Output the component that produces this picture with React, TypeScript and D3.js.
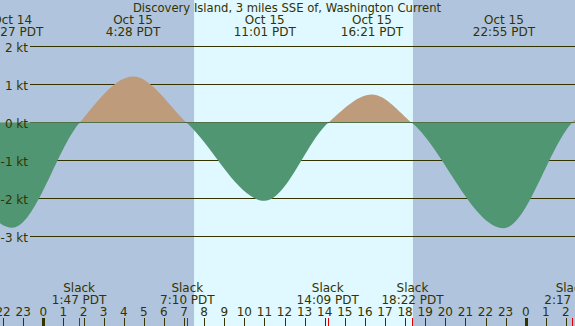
import React from "react";
import * as d3 from "d3";

// hours are counted from Oct 15 00:00 PDT
const eventHours = [-5, -1.55, 1.783, 4.467, 7.167, 11.017, 14.15, 16.35, 18.367, 22.917, 26.283, 29.5];
const eventSpeeds = [0, -2.75, 0, 1.23, 0, -2.04, 0, 0.76, 0, -2.76, 0, 1.1];

const maxHours = [-1.55, 4.467, 11.017, 16.35, 22.917];
const maxDays = ["Oct 14", "Oct 15", "Oct 15", "Oct 15", "Oct 15"];
const maxTimes = ["22:27 PDT", "4:28 PDT", "11:01 PDT", "16:21 PDT", "22:55 PDT"];

const slackHours = [1.783, 7.167, 14.15, 18.367, 26.283];
const slackTimes = ["1:47 PDT", "7:10 PDT", "14:09 PDT", "18:22 PDT", "2:17 PDT"];

const ktTicks = [2, 1, 0, -1, -2, -3];
const hourTicks = d3.range(-2, 27);

const sunrise = 7.5;
const sunset = 18.39;

const title = "Discovery Island, 3 miles SSE of, Washington Current";

const W = 575;
const H = 326;
const ink = "#333300";
const font = "DejaVu Sans";

const App = () => {
  const x = d3.scaleLinear().domain([0, 24]).range([43.3, 525.7]);
  const y = d3.scaleLinear().domain([-3, 2]).range([237.3, 47.3]);
  const y0 = Math.round(y(0)) - 0.5;

  const pts = eventHours.map((h, i) => [h, eventSpeeds[i]] as [number, number]);
  const area = d3
    .area<[number, number]>()
    .x(d => x(d[0]))
    .y0(y0)
    .y1(d => y(d[1]))
    .curve(d3.curveMonotoneX);
  const path = area(pts) || "";

  return (
    <div style={{ position: "fixed", left: 0, top: 0 }}>
      <svg width={W} height={H} style={{ display: "block" }} fontFamily={font} fontSize={12}>
        <defs>
          <clipPath id="above">
            <rect x={0} y={0} width={W} height={y0} />
          </clipPath>
          <clipPath id="below">
            <rect x={0} y={y0 - 0.5} width={W} height={H} />
          </clipPath>
        </defs>
        <rect x={0} y={0} width={W} height={H} fill="#b0c4de" />
        <rect x={x(sunrise)} y={0} width={x(sunset) - x(sunrise)} height={H} fill="#e0f8ff" />

        {ktTicks.map(k => (
          <line key={k} x1={30} x2={W} y1={Math.round(y(k)) - 0.5} y2={Math.round(y(k)) - 0.5} stroke={ink} strokeWidth={1} />
        ))}

        <path d={path} fill="#bd9b7b" clipPath="url(#above)" />
        <path d={path} fill="#509672" clipPath="url(#below)" />

        {ktTicks.map(k => (
          <text key={k} x={28} y={y(k)} dy="0.36em" textAnchor="end" fill={ink}>
            {k} kt
          </text>
        ))}

        <text x={287} y={12} textAnchor="middle" fill={ink} fontSize={11.6}>{title}</text>
        {maxHours.map((h, i) => (
          <g key={i}>
            <text x={x(h)} y={24} textAnchor="middle" fill={ink}>{maxDays[i]}</text>
            <text x={x(h)} y={36} textAnchor="middle" fill={ink}>{maxTimes[i]}</text>
          </g>
        ))}

        {slackHours.map((h, i) => (
          <g key={i}>
            <text x={x(h)} y={292} textAnchor="middle" fill={ink}>Slack</text>
            <text x={x(h)} y={304} textAnchor="middle" fill={ink}>{slackTimes[i]}</text>
          </g>
        ))}

        {hourTicks.map(h => {
          const px = Math.round(x(h)) + 0.5;
          const midnight = h % 24 === 0;
          return (
            <g key={h}>
              <text x={x(h)} y={316} textAnchor="middle" fill={ink}>{((h % 24) + 24) % 24}</text>
              <line x1={px} x2={px} y1={318} y2={H} stroke={ink} strokeWidth={midnight ? 3 : 1} />
            </g>
          );
        })}
        {slackHours.map((h, i) => {
          const px = Math.round(x(h)) + 0.5;
          return <line key={i} x1={px} x2={px} y1={318} y2={H} stroke="#e00000" strokeWidth={1} />;
        })}
      </svg>
    </div>
  );
};

export default App;
